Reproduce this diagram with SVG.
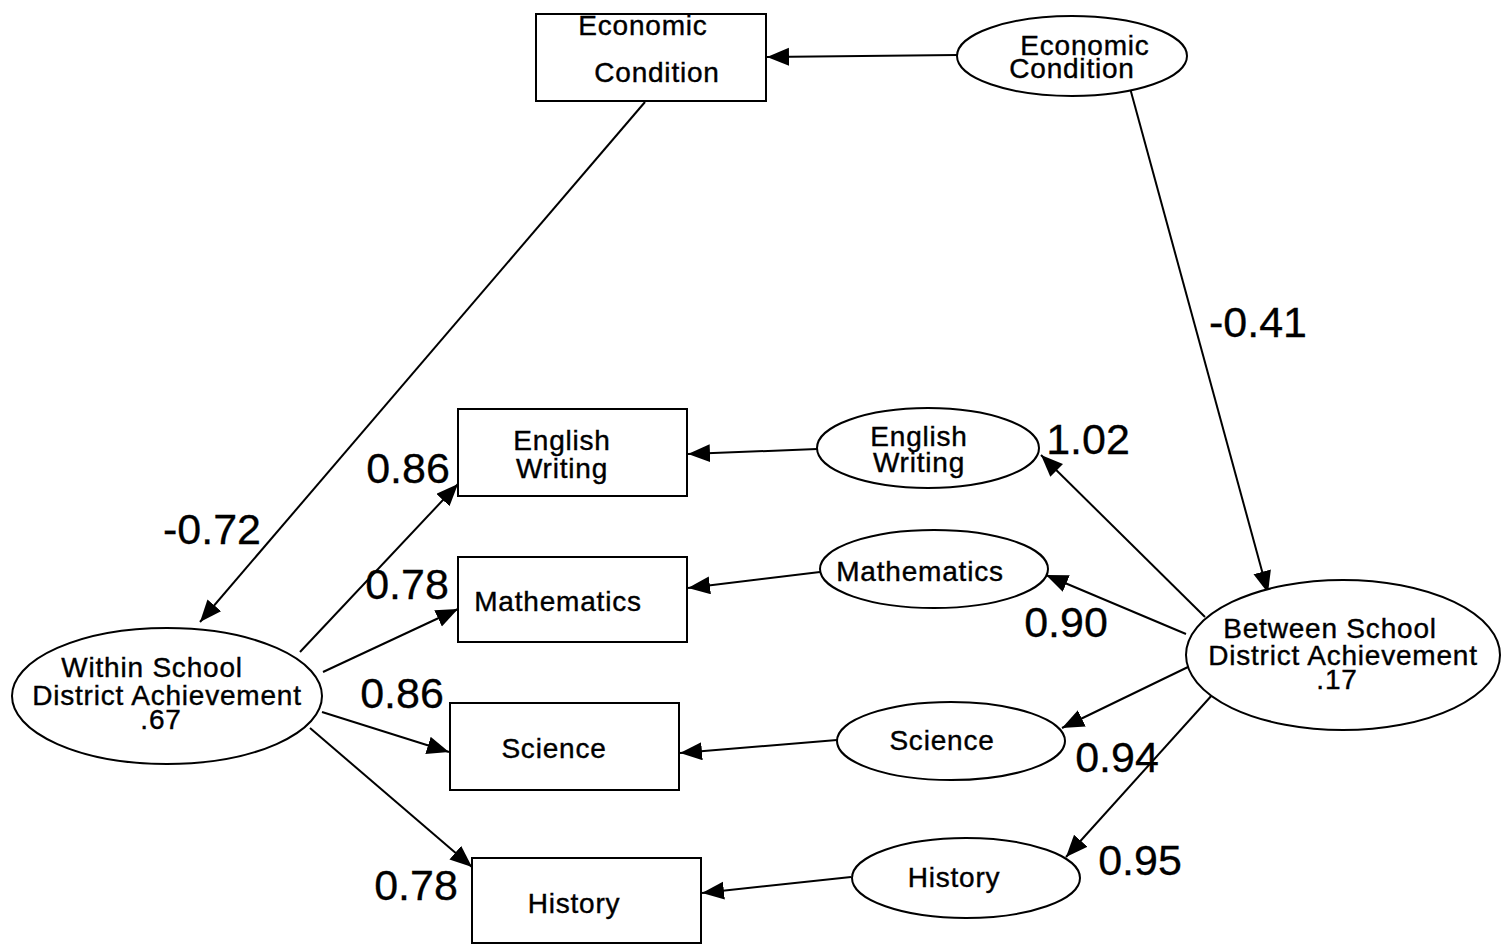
<svg xmlns="http://www.w3.org/2000/svg" width="1501" height="945" viewBox="0 0 1501 945">
  <style>
    .shape { fill: #fff; stroke: #000; stroke-width: 2; }
    .edge { fill: none; stroke: #000; stroke-width: 2; marker-end: url(#arrow); }
    .node-text { font-family: "Liberation Sans", Arial, sans-serif; font-size: 28px; letter-spacing: 0.8px; fill: #000; stroke: #000; stroke-width: 0.4; text-anchor: middle; }
    .coef { font-family: "Liberation Sans", Arial, sans-serif; font-size: 43px; fill: #000; stroke: #000; stroke-width: 0.3; text-anchor: middle; }
  </style>
  <defs>
    <marker id="arrow" markerUnits="userSpaceOnUse" markerWidth="24" markerHeight="20" refX="22" refY="9" orient="auto">
      <path d="M0,0 L22,9 L0,18 Z" fill="#000"/>
    </marker>
  </defs>
  <rect width="1501" height="945" fill="#fff"/>

  <!-- connectors -->
  <g id="connectors">
    <line class="edge" x1="957" y1="55" x2="767" y2="57"/>
    <line class="edge" x1="645" y1="102" x2="200" y2="622"/>
    <line class="edge" x1="1130" y1="88" x2="1268" y2="593"/>
    <line class="edge" x1="300" y1="652" x2="458" y2="484"/>
    <line class="edge" x1="323" y1="672" x2="458" y2="609"/>
    <line class="edge" x1="322" y1="712" x2="449" y2="752"/>
    <line class="edge" x1="310" y1="728" x2="472" y2="867"/>
    <line class="edge" x1="817" y1="449" x2="688" y2="454"/>
    <line class="edge" x1="820" y1="572" x2="688" y2="588"/>
    <line class="edge" x1="837" y1="740" x2="680" y2="753"/>
    <line class="edge" x1="851" y1="877" x2="702" y2="893"/>
    <line class="edge" x1="1205" y1="617" x2="1041" y2="455"/>
    <line class="edge" x1="1186" y1="634" x2="1046" y2="575"/>
    <line class="edge" x1="1188" y1="667" x2="1062" y2="728"/>
    <line class="edge" x1="1213" y1="694" x2="1066" y2="857"/>
  </g>

  <!-- observed economic condition -->
  <g id="econ-observed">
    <rect class="shape" x="536" y="14" width="230" height="87"/>
    <text class="node-text" x="643" y="35">Economic</text>
    <text class="node-text" x="657" y="82">Condition</text>
  </g>
  <g id="econ-latent">
    <ellipse class="shape" cx="1072" cy="56" rx="115" ry="40"/>
    <text class="node-text" x="1085" y="55">Economic</text>
    <text class="node-text" x="1072" y="78">Condition</text>
  </g>

  <!-- within-level factor -->
  <g id="within">
    <ellipse class="shape" cx="167" cy="696" rx="155" ry="68"/>
    <text class="node-text" x="152" y="677">Within School</text>
    <text class="node-text" x="167" y="705">District Achievement</text>
    <text class="node-text" x="161" y="729">.67</text>
  </g>

  <!-- between-level factor -->
  <g id="between">
    <ellipse class="shape" cx="1343" cy="655" rx="157" ry="75"/>
    <text class="node-text" x="1330" y="638">Between School</text>
    <text class="node-text" x="1343" y="665">District Achievement</text>
    <text class="node-text" x="1337" y="689">.17</text>
  </g>

  <!-- observed subject scores -->
  <g id="obs-english">
    <rect class="shape" x="458" y="409" width="229" height="87"/>
    <text class="node-text" x="562" y="450">English</text>
    <text class="node-text" x="562" y="478">Writing</text>
  </g>
  <g id="obs-math">
    <rect class="shape" x="458" y="557" width="229" height="85"/>
    <text class="node-text" x="558" y="611">Mathematics</text>
  </g>
  <g id="obs-science">
    <rect class="shape" x="450" y="703" width="229" height="87"/>
    <text class="node-text" x="554" y="758">Science</text>
  </g>
  <g id="obs-history">
    <rect class="shape" x="472" y="858" width="229" height="85"/>
    <text class="node-text" x="574" y="913">History</text>
  </g>

  <!-- between-level subject factors -->
  <g id="lat-english">
    <ellipse class="shape" cx="928" cy="448" rx="111" ry="40"/>
    <text class="node-text" x="919" y="446">English</text>
    <text class="node-text" x="919" y="472">Writing</text>
  </g>
  <g id="lat-math">
    <ellipse class="shape" cx="934" cy="569" rx="114" ry="39"/>
    <text class="node-text" x="920" y="581">Mathematics</text>
  </g>
  <g id="lat-science">
    <ellipse class="shape" cx="951" cy="741" rx="114" ry="39"/>
    <text class="node-text" x="942" y="750">Science</text>
  </g>
  <g id="lat-history">
    <ellipse class="shape" cx="966" cy="878" rx="114" ry="40"/>
    <text class="node-text" x="954" y="887">History</text>
  </g>

  <!-- path coefficients -->
  <g id="coefficients">
    <text class="coef" x="212" y="544">-0.72</text>
    <text class="coef" x="1258" y="337">-0.41</text>
    <text class="coef" x="408" y="483">0.86</text>
    <text class="coef" x="407" y="599">0.78</text>
    <text class="coef" x="402" y="708">0.86</text>
    <text class="coef" x="416" y="900">0.78</text>
    <text class="coef" x="1088" y="454">1.02</text>
    <text class="coef" x="1066" y="637">0.90</text>
    <text class="coef" x="1117" y="772">0.94</text>
    <text class="coef" x="1140" y="875">0.95</text>
  </g>
</svg>
